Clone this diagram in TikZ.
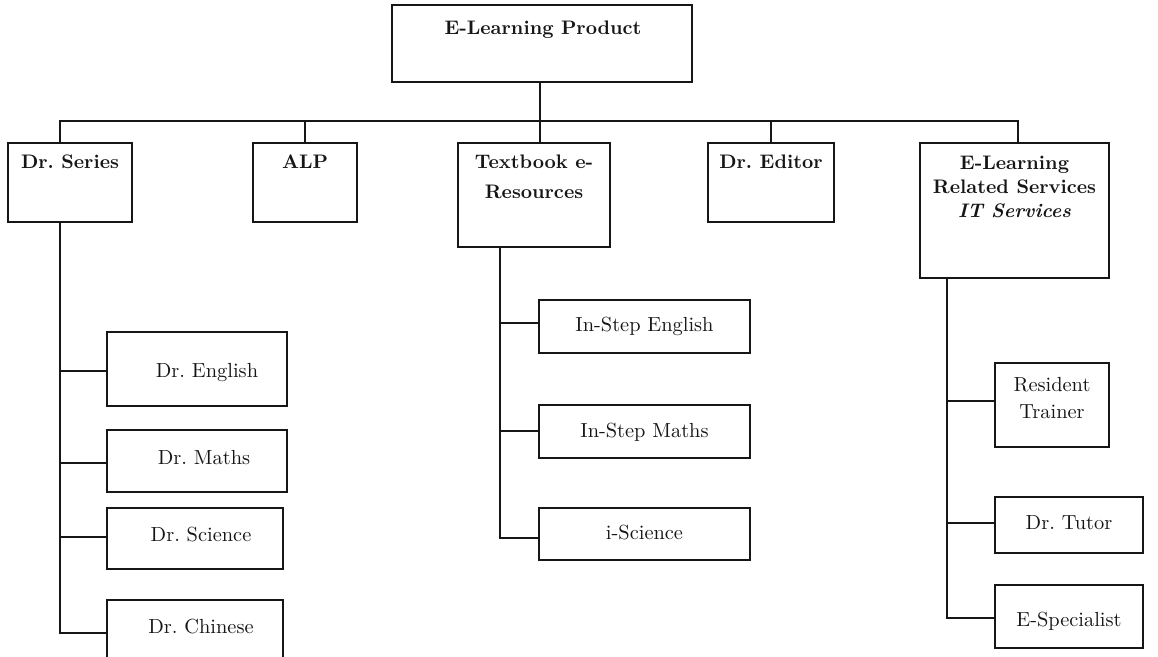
\documentclass[tikz,border=0pt]{standalone}
\definecolor{ink}{HTML}{161616}
\begin{document}
\begin{tikzpicture}[x=0.5pt,y=-0.5pt,
  box/.style={draw=ink, line width=1.1pt, rectangle, inner sep=0pt},
  conn/.style={draw=ink, line width=1.1pt},
  txt/.style={anchor=base, inner sep=0pt, text=ink, font=\fontsize{10.2}{12}\selectfont},
  btxt/.style={anchor=base, inner sep=0pt, text=ink, font=\fontsize{9.8}{12}\selectfont\bfseries},
  bitxt/.style={anchor=base, inner sep=0pt, text=ink, font=\fontsize{9.8}{12}\selectfont\bfseries\itshape}]
\useasboundingbox (0,0) rectangle (1158,657);
\clip (0,0) rectangle (1158,657);
% boxes
\node[box, minimum width=150pt, minimum height=38.5pt] (p) at (542,43.5) {};
\node[box, minimum width=62pt, minimum height=39.5pt] (ds) at (70,182.5) {};
\node[box, minimum width=52pt, minimum height=39.5pt] (alp) at (305,182.5) {};
\node[box, minimum width=76pt, minimum height=52pt] (tb) at (534,195) {};
\node[box, minimum width=63pt, minimum height=39.5pt] (ed) at (771,182.5) {};
\node[box, minimum width=94.5pt, minimum height=67.5pt] (el) at (1014.5,210.5) {};
\node[box, minimum width=90pt, minimum height=37pt] (de) at (197,369) {};
\node[box, minimum width=90pt, minimum height=31pt] (dm) at (197,461) {};
\node[box, minimum width=88pt, minimum height=30.5pt] (dsc) at (195,538.5) {};
\node[box, minimum width=88pt, minimum height=35pt] (dc) at (195,635) {};
\node[box, minimum width=105.5pt, minimum height=26.5pt] (ise) at (644.5,326.5) {};
\node[box, minimum width=105.5pt, minimum height=26.5pt] (ism) at (644.5,431.5) {};
\node[box, minimum width=105.5pt, minimum height=26pt] (isc) at (644.5,534) {};
\node[box, minimum width=57pt, minimum height=42pt] (rt) at (1052,405) {};
\node[box, minimum width=74pt, minimum height=28pt] (dt) at (1069,525) {};
\node[box, minimum width=74pt, minimum height=31.5pt] (es) at (1069,616.5) {};
% texts
\node[btxt] (pt) at (543,35) {E-Learning Product};
\node[btxt] (dst) at (70,169) {Dr.\ Series};
\node[btxt] (alpt) at (305,169) {ALP};
\node[btxt] (tbt1) at (534,169) {Textbook e-};
\node[btxt] (tbt2) at (534,199) {Resources};
\node[btxt] (edt) at (771,169) {Dr.\ Editor};
\node[btxt] (elt1) at (1014.5,170) {E-Learning};
\node[btxt] (elt2) at (1014.5,194) {Related Services};
\node[bitxt] (elt3) at (1014.5,218) {IT Services};
\node[txt] (det) at (207,378) {Dr.\ English};
\node[txt] (dmt) at (204,465) {Dr.\ Maths};
\node[txt] (dsct) at (201,542) {Dr.\ Science};
\node[txt] (dct) at (201,634) {Dr.\ Chinese};
\node[txt] (iset) at (644.5,332) {In-Step English};
\node[txt] (ismt) at (644.5,438) {In-Step Maths};
\node[txt] (isct) at (644.5,540) {i-Science};
\node[txt] (rtt1) at (1052,392) {Resident};
\node[txt] (rtt2) at (1052,419) {Trainer};
\node[txt] (dtt) at (1069,530) {Dr.\ Tutor};
\node[txt] (est) at (1069,627) {E-Specialist};
% top level connectors
\coordinate (bus) at (540,121);
\draw[conn] (p.south -| bus) -- (bus);
\draw[conn] (ds.north -| 60,0) -- (60,121) -- (1018,121) -- (el.north -| 1018,0);
\draw[conn] (alp.north) -- (alp.north |- bus);
\draw[conn] (tb.north -| bus) -- (bus);
\draw[conn] (ed.north) -- (ed.north |- bus);
% Dr. Series children
\draw[conn] (ds.south -| 60,0) -- (60,633) -- (dc.west |- 60,633);
\draw[conn] (60,371) -- (de.west |- 60,371);
\draw[conn] (60,463) -- (dm.west |- 60,463);
\draw[conn] (60,537) -- (dsc.west |- 60,537);
% Textbook children
\draw[conn] (tb.south -| 500,0) -- (500,538) -- (isc.west |- 500,538);
\draw[conn] (500,323) -- (ise.west |- 500,323);
\draw[conn] (500,431) -- (ism.west |- 500,431);
% E-Learning services children
\draw[conn] (el.south -| 947,0) -- (947,618) -- (es.west |- 947,618);
\draw[conn] (947,401) -- (rt.west |- 947,401);
\draw[conn] (947,523) -- (dt.west |- 947,523);
\end{tikzpicture}
\end{document}
